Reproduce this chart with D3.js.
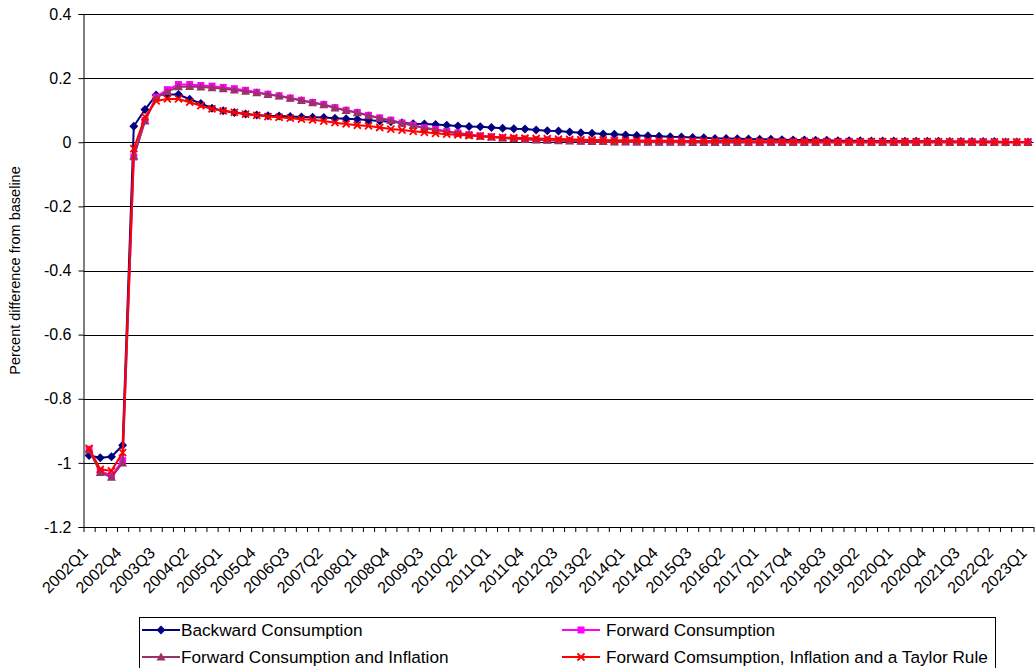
<!DOCTYPE html>
<html>
<head>
<meta charset="utf-8">
<script src="https://cdn.jsdelivr.net/npm/d3@7/dist/d3.min.js"></script>
<style>
  html, body { margin: 0; padding: 0; background: #fff; overflow: hidden; }
  svg { display: block; font-family: "Liberation Sans", Arial, sans-serif; }
</style>
</head>
<body>
<svg id="chart" width="1035" height="668"></svg>
<script>
// Quarterly categories, 2002Q1 .. 2023Q1
const quarters = [
  "2002Q1","2002Q2","2002Q3","2002Q4","2003Q1","2003Q2","2003Q3","2003Q4",
  "2004Q1","2004Q2","2004Q3","2004Q4","2005Q1","2005Q2","2005Q3","2005Q4",
  "2006Q1","2006Q2","2006Q3","2006Q4","2007Q1","2007Q2","2007Q3","2007Q4",
  "2008Q1","2008Q2","2008Q3","2008Q4","2009Q1","2009Q2","2009Q3","2009Q4",
  "2010Q1","2010Q2","2010Q3","2010Q4","2011Q1","2011Q2","2011Q3","2011Q4",
  "2012Q1","2012Q2","2012Q3","2012Q4","2013Q1","2013Q2","2013Q3","2013Q4",
  "2014Q1","2014Q2","2014Q3","2014Q4","2015Q1","2015Q2","2015Q3","2015Q4",
  "2016Q1","2016Q2","2016Q3","2016Q4","2017Q1","2017Q2","2017Q3","2017Q4",
  "2018Q1","2018Q2","2018Q3","2018Q4","2019Q1","2019Q2","2019Q3","2019Q4",
  "2020Q1","2020Q2","2020Q3","2020Q4","2021Q1","2021Q2","2021Q3","2021Q4",
  "2022Q1","2022Q2","2022Q3","2022Q4","2023Q1"
];

// Labelled categories on the horizontal axis
const xTickLabels = [
  "2002Q1","2002Q4","2003Q3","2004Q2","2005Q1","2005Q4","2006Q3","2007Q2",
  "2008Q1","2008Q4","2009Q3","2010Q2","2011Q1","2011Q4","2012Q3","2013Q2",
  "2014Q1","2014Q4","2015Q3","2016Q2","2017Q1","2017Q4","2018Q3","2019Q2",
  "2020Q1","2020Q4","2021Q3","2022Q2","2023Q1"
];

const yTickValues = [0.4, 0.2, 0, -0.2, -0.4, -0.6, -0.8, -1.0, -1.2];

const seriesNames = [
  "Backward Consumption",
  "Forward Consumption",
  "Forward Consumption and Inflation",
  "Forward Comsumption, Inflation and a Taylor Rule"
];

// Percent difference from baseline, one value per quarter
const backwardConsumption = [
  -0.977,-0.984,-0.981,-0.945, 0.050, 0.102, 0.147, 0.149, 0.149, 0.134,
   0.121, 0.106, 0.098, 0.093, 0.088, 0.085, 0.083, 0.082, 0.080, 0.079,
   0.078, 0.077, 0.075, 0.073, 0.072, 0.069, 0.066, 0.064, 0.061, 0.058,
   0.057, 0.055, 0.053, 0.051, 0.049, 0.048, 0.046, 0.044, 0.042, 0.041,
   0.038, 0.036, 0.035, 0.032, 0.030, 0.028, 0.026, 0.025, 0.023, 0.021,
   0.020, 0.019, 0.017, 0.016, 0.015, 0.014, 0.012, 0.012, 0.011, 0.010,
   0.009, 0.009, 0.008, 0.007, 0.007, 0.006, 0.006, 0.005, 0.005, 0.005,
   0.004, 0.004, 0.004, 0.003, 0.003, 0.003, 0.003, 0.002, 0.002, 0.002,
   0.002, 0.002, 0.001, 0.001, 0.001
];

const forwardConsumption = [
  -0.958,-1.025,-1.040,-0.993,-0.046, 0.068, 0.141, 0.164, 0.180, 0.180,
   0.177, 0.175, 0.171, 0.167, 0.162, 0.156, 0.150, 0.145, 0.138, 0.131,
   0.124, 0.118, 0.108, 0.100, 0.093, 0.084, 0.076, 0.069, 0.060, 0.053,
   0.045, 0.040, 0.034, 0.029, 0.024, 0.020, 0.017, 0.014, 0.012, 0.010,
   0.008, 0.007, 0.006, 0.005, 0.004, 0.003, 0.003, 0.002, 0.002, 0.001,
   0.001, 0.001, 0.001, 0.001, 0.001, 0.000, 0.000, 0.000, 0.000, 0.000,
   0.000, 0.000, 0.000, 0.000, 0.000, 0.000, 0.000, 0.000, 0.000, 0.000,
   0.000, 0.000, 0.000, 0.000, 0.000, 0.000, 0.000, 0.000, 0.000, 0.000,
   0.000, 0.000, 0.000, 0.000, 0.000
];

const forwardConsumptionInflation = [
  -0.960,-1.030,-1.045,-1.000,-0.044, 0.066, 0.138, 0.158, 0.173, 0.174,
   0.172, 0.170, 0.167, 0.163, 0.159, 0.154, 0.149, 0.144, 0.137, 0.130,
   0.123, 0.117, 0.107, 0.099, 0.092, 0.083, 0.075, 0.068, 0.059, 0.052,
   0.044, 0.039, 0.033, 0.028, 0.023, 0.019, 0.016, 0.013, 0.011, 0.009,
   0.007, 0.006, 0.005, 0.004, 0.003, 0.002, 0.002, 0.001, 0.001, 0.001,
   0.000, 0.000, 0.000, 0.000,-0.001,-0.001,-0.001,-0.001,-0.001,-0.001,
  -0.001,-0.001,-0.001,-0.001,-0.001,-0.001,-0.001,-0.001,-0.001,-0.001,
  -0.001,-0.001,-0.001,-0.001,-0.001,-0.001,-0.001,-0.001,-0.001,-0.001,
  -0.001,-0.001,-0.001,-0.001,-0.001
];

const forwardTaylorRule = [
  -0.955,-1.020,-1.025,-0.968,-0.020, 0.079, 0.129, 0.135, 0.135, 0.125,
   0.114, 0.104, 0.098, 0.093, 0.088, 0.084, 0.080, 0.078, 0.075, 0.072,
   0.070, 0.066, 0.061, 0.057, 0.053, 0.051, 0.046, 0.041, 0.038, 0.034,
   0.031, 0.028, 0.025, 0.023, 0.021, 0.019, 0.017, 0.015, 0.014, 0.013,
   0.012, 0.011, 0.010, 0.009, 0.008, 0.007, 0.007, 0.006, 0.006, 0.006,
   0.005, 0.005, 0.005, 0.005, 0.004, 0.004, 0.004, 0.004, 0.004, 0.003,
   0.003, 0.003, 0.003, 0.003, 0.003, 0.003, 0.002, 0.002, 0.002, 0.002,
   0.002, 0.002, 0.002, 0.002, 0.002, 0.002, 0.002, 0.002, 0.002, 0.001,
   0.001, 0.001, 0.001, 0.001, 0.001
];

const seriesColors = ["#000080", "#FF00FF", "#993366", "#FF0000"];
const seriesMarkers = ["diamond", "square", "triangle", "cross"];

const series = [backwardConsumption, forwardConsumption, forwardConsumptionInflation, forwardTaylorRule]
  .map((values, i) => ({
    name: seriesNames[i], color: seriesColors[i], marker: seriesMarkers[i],
    points: values.map((v, j) => ({ q: quarters[j], v }))
  }));

// ---- layout ----
const plot = { left: 83.5, right: 1033.5, top: 14, bottom: 527 };
const svg = d3.select("#chart");

const x = d3.scaleBand().domain(quarters).range([plot.left, plot.right]).padding(0);
const y = d3.scaleLinear().domain([-1.2, 0.4]).range([plot.bottom, plot.top]);
const cx = q => x(q) + x.bandwidth() / 2;

// horizontal gridlines
svg.append("g")
  .selectAll("line")
  .data(yTickValues)
  .join("line")
  .attr("x1", plot.left).attr("x2", plot.right)
  .attr("y1", d => Math.round(y(d)) + 0.5).attr("y2", d => Math.round(y(d)) + 0.5)
  .attr("stroke", "#000").attr("stroke-width", 1);

// vertical axis
const yAxis = d3.axisLeft(y)
  .tickValues(yTickValues)
  .tickSize(5)
  .tickPadding(7)
  .tickFormat(d => String(+d.toFixed(1)));
const yg = svg.append("g").attr("transform", `translate(${plot.left},0)`).call(yAxis);
yg.select(".domain").attr("stroke", "#000");
yg.selectAll(".tick line").attr("stroke", "#000");
yg.selectAll(".tick text").attr("font-size", 16).attr("fill", "#000")
  .attr("font-family", "Liberation Sans, Arial, sans-serif");

// category boundary ticks along the bottom
const boundaryScale = d3.scaleLinear().domain([0, quarters.length]).range([plot.left, plot.right]);
const xTicks = d3.axisBottom(boundaryScale)
  .tickValues(d3.range(0, quarters.length + 1))
  .tickSize(5)
  .tickFormat("");
const xg = svg.append("g").attr("transform", `translate(0,${plot.bottom})`).call(xTicks);
xg.select(".domain").remove();
xg.selectAll(".tick line").attr("stroke", "#000");

// category labels
const xLabelAxis = d3.axisBottom(x).tickValues(xTickLabels).tickSize(0);
const xl = svg.append("g").attr("transform", `translate(0,${plot.bottom})`).call(xLabelAxis);
xl.select(".domain").remove();
xl.selectAll(".tick text")
  .attr("font-size", 16).attr("fill", "#000")
  .attr("font-family", "Liberation Sans, Arial, sans-serif")
  .attr("text-anchor", "end")
  .attr("x", 0).attr("y", 0).attr("dy", 0)
  .attr("transform", "translate(0,27) rotate(-45)");

// bottom axis line
svg.append("line")
  .attr("x1", plot.left).attr("x2", plot.right)
  .attr("y1", Math.round(y(-1.2)) + 0.5).attr("y2", Math.round(y(-1.2)) + 0.5)
  .attr("stroke", "#000");

// axis title
svg.append("text")
  .attr("transform", `translate(20,${(plot.top + plot.bottom) / 2}) rotate(-90)`)
  .attr("text-anchor", "middle")
  .attr("font-size", 14.5)
  .text("Percent difference from baseline");

// ---- markers ----
function drawMarker(sel, type, color) {
  if (type === "diamond") {
    sel.append("path").attr("d", "M0,-4.5L4.5,0L0,4.5L-4.5,0Z").attr("fill", color);
  } else if (type === "square") {
    sel.append("rect").attr("x", -3.5).attr("y", -3.5).attr("width", 7).attr("height", 7).attr("fill", color);
  } else if (type === "triangle") {
    sel.append("path").attr("d", "M0,-4.5L4.5,3.5L-4.5,3.5Z").attr("fill", color);
  } else {
    sel.append("path").attr("d", "M-3.5,-3.5L3.5,3.5M-3.5,3.5L3.5,-3.5")
      .attr("stroke", color).attr("stroke-width", 1.8).attr("fill", "none");
  }
}

const line = d3.line().x(d => cx(d.q)).y(d => y(d.v));

const plotG = svg.append("g");
series.forEach(s => {
  const g = plotG.append("g");
  g.append("path").datum(s.points)
    .attr("d", line)
    .attr("fill", "none")
    .attr("stroke", s.color)
    .attr("stroke-width", 2);
  g.selectAll("g.m").data(s.points).join("g")
    .attr("class", "m")
    .attr("transform", d => `translate(${cx(d.q)},${y(d.v)})`)
    .each(function () { drawMarker(d3.select(this), s.marker, s.color); });
});

// ---- legend ----
const legend = svg.append("g");
legend.append("rect")
  .attr("x", 139.5).attr("y", 617.5).attr("width", 856).attr("height", 70)
  .attr("fill", "#fff").attr("stroke", "#000");

const legendPos = [
  { x: 142, y: 630 }, { x: 562, y: 630 },
  { x: 142, y: 657 }, { x: 562, y: 657 }
];
series.forEach((s, i) => {
  const p = legendPos[i];
  const g = legend.append("g").attr("transform", `translate(${p.x},${p.y})`);
  g.append("line").attr("x1", 0).attr("x2", 38).attr("y1", 0).attr("y2", 0)
    .attr("stroke", s.color).attr("stroke-width", 2);
  const m = g.append("g").attr("transform", "translate(19,0)");
  drawMarker(m, s.marker, s.color);
  g.append("text").attr("x", i % 2 === 0 ? 39 : 44).attr("y", 0).attr("dy", "0.35em")
    .attr("font-size", 17.2).text(s.name);
});
</script>
</body>
</html>
